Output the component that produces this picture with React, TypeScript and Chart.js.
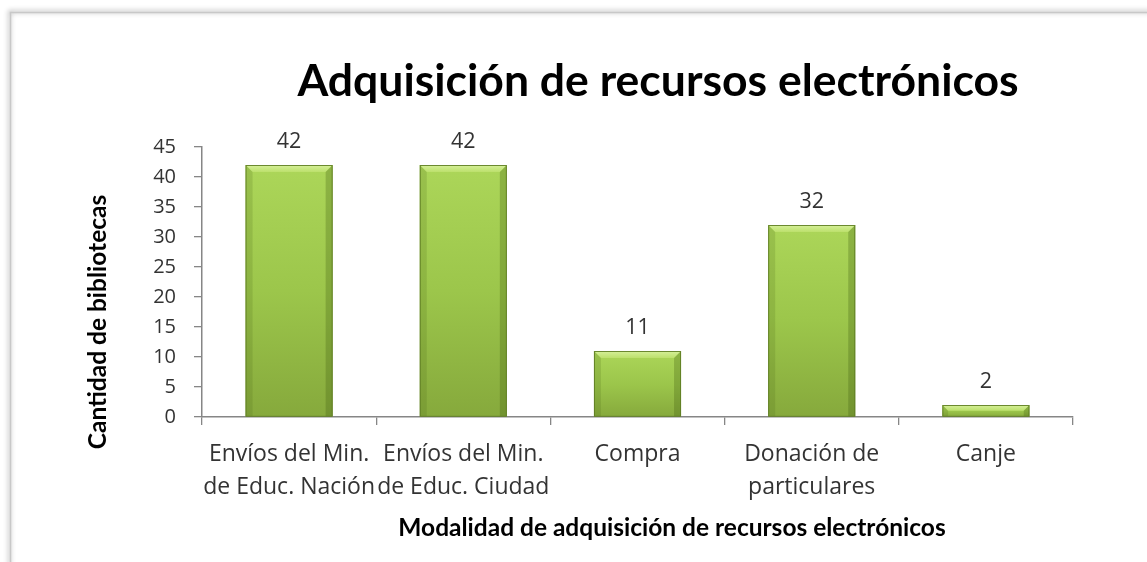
import React, { useEffect, useRef } from 'react';
import { Chart, registerables } from 'chart.js';

Chart.register(...registerables);

const TITLE = 'Adquisición de recursos electrónicos';
const X_TITLE = 'Modalidad de adquisición de recursos electrónicos';
const Y_TITLE = 'Cantidad de bibliotecas';

const categories: string[][] = [
  ['Envíos del Min.', 'de Educ. Nación'],
  ['Envíos del Min.', 'de Educ. Ciudad'],
  ['Compra'],
  ['Donación de', 'particulares'],
  ['Canje'],
];
const values: number[] = [42, 42, 11, 32, 2];
const yMin = 0;
const yMax = 45;
const yStep = 5;

const W = 1147;
const H = 562;
const AXIS = '#868686';
const TEXT = '#333333';

const framePlugin = {
  id: 'frame',
  beforeDraw(chart: any) {
    const c = chart.ctx;
    c.save();
    c.fillStyle = '#ffffff';
    c.fillRect(0, 0, chart.width, chart.height);
    c.shadowColor = 'rgba(0,0,0,0.45)';
    c.shadowBlur = 5;
    c.shadowOffsetX = -1;
    c.shadowOffsetY = -1;
    c.strokeStyle = '#c8c8c8';
    c.lineWidth = 1.5;
    c.beginPath();
    c.moveTo(10.5, chart.height + 5);
    c.lineTo(10.5, 12.5);
    c.lineTo(chart.width + 5, 12.5);
    c.stroke();
    c.restore();
  },
};

const bevelPlugin = {
  id: 'bevel',
  afterDatasetsDraw(chart: any) {
    const c = chart.ctx;
    const meta = chart.getDatasetMeta(0);
    meta.data.forEach((bar: any, i: number) => {
      const { x, y, base, width } = bar.getProps(['x', 'y', 'base', 'width'], true);
      const l = x - width / 2;
      const r = x + width / 2;
      const h = base - y;
      const b = Math.min(7, h / 2);
      c.save();
      const tg = c.createLinearGradient(0, y, 0, y + b);
      tg.addColorStop(0, '#d6f09a');
      tg.addColorStop(1, '#bce06c');
      c.fillStyle = tg;
      c.beginPath();
      c.moveTo(l, y);
      c.lineTo(r, y);
      c.lineTo(r - b, y + b);
      c.lineTo(l + b, y + b);
      c.closePath();
      c.fill();
      c.fillStyle = 'rgba(70,100,20,0.18)';
      c.beginPath();
      c.moveTo(l, y);
      c.lineTo(l + b, y + b);
      c.lineTo(l + b, base);
      c.lineTo(l, base);
      c.closePath();
      c.fill();
      c.fillStyle = 'rgba(60,90,15,0.28)';
      c.beginPath();
      c.moveTo(r, y);
      c.lineTo(r - b, y + b);
      c.lineTo(r - b, base);
      c.lineTo(r, base);
      c.closePath();
      c.fill();
      c.strokeStyle = 'rgba(95,125,35,0.9)';
      c.lineWidth = 1;
      c.strokeRect(l + 0.5, y + 0.5, width - 1, h - 0.5);
      c.restore();

      c.save();
      c.font = '21.5px "Open Sans"';
      c.fillStyle = TEXT;
      c.textAlign = 'center';
      c.textBaseline = 'alphabetic';
      c.fillText(String(values[i]), x, y - 17);
      c.restore();
    });
  },
};

const titlesPlugin = {
  id: 'titles',
  afterDraw(chart: any) {
    const c = chart.ctx;
    c.save();
    c.fillStyle = '#000000';
    c.textAlign = 'center';
    c.textBaseline = 'alphabetic';
    c.font = 'bold 44.5px Lato';
    c.fillText(TITLE, 658, 96);
    c.font = 'bold 24.5px Lato';
    c.fillText(X_TITLE, 672, 536);
    c.translate(106, 322);
    c.rotate(-Math.PI / 2);
    c.fillText(Y_TITLE, 0, 0);
    c.restore();
  },
};

function barFill(ctx: any) {
  const chart = ctx.chart;
  const ys = chart.scales && chart.scales.y;
  const v = ctx.raw;
  if (!ys || typeof v !== 'number' || !isFinite(ys.getPixelForValue(v))) return '#9cc64b';
  const top = ys.getPixelForValue(v);
  const bottom = ys.getPixelForValue(0);
  const g = chart.ctx.createLinearGradient(0, top, 0, bottom);
  g.addColorStop(0, '#acd659');
  g.addColorStop(0.5, '#9cc64b');
  g.addColorStop(1, '#86a93c');
  return g;
}

export default function App() {
  const ref = useRef<HTMLCanvasElement | null>(null);
  useEffect(() => {
    if (!ref.current) return;
    const chart = new Chart(ref.current, {
      type: 'bar',
      data: {
        labels: categories,
        datasets: [
          {
            data: values,
            backgroundColor: barFill as any,
            borderWidth: 0,
            categoryPercentage: 1,
            barPercentage: 0.5,
          },
        ],
      },
      options: {
        responsive: false,
        animation: false,
        layout: { padding: { top: 147, right: 74, bottom: 0, left: 0 } },
        plugins: {
          legend: { display: false },
          title: { display: false },
          tooltip: { enabled: false },
        },
        scales: {
          x: {
            offset: true,
            grid: {
              display: true,
              offset: true,
              drawOnChartArea: false,
              drawTicks: true,
              tickLength: 8,
              color: AXIS,
              lineWidth: 1.3,
            },
            border: { display: true, color: AXIS, width: 1.5 },
            ticks: {
              font: { family: '"Open Sans"', size: 23, lineHeight: 1.43 },
              color: TEXT,
              padding: 13,
              maxRotation: 0,
              minRotation: 0,
              autoSkip: false,
            },
            afterFit: (s: any) => {
              s.height = H - 417;
            },
          },
          y: {
            min: yMin,
            max: yMax,
            grid: {
              display: true,
              drawOnChartArea: false,
              drawTicks: true,
              tickLength: 8,
              color: AXIS,
              lineWidth: 1.3,
            },
            border: { display: true, color: AXIS, width: 1.5 },
            ticks: {
              stepSize: yStep,
              font: { family: '"Open Sans"', size: 20 },
              color: TEXT,
              padding: 18,
            },
            afterFit: (s: any) => {
              s.width = 202;
            },
          },
        },
      },
      plugins: [framePlugin, bevelPlugin, titlesPlugin],
    });
    return () => chart.destroy();
  }, []);
  return (
    <div style={{ position: 'fixed', left: 0, top: 0, width: W, height: H, background: '#fff' }}>
      <canvas ref={ref} width={W} height={H} style={{ display: 'block', width: W, height: H }} />
    </div>
  );
}
